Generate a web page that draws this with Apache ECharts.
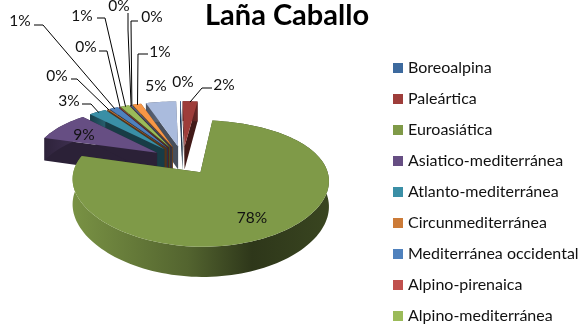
<!DOCTYPE html>
<html><head><meta charset="utf-8">
<style>html,body{margin:0;padding:0;background:#fff}#c{width:586px;height:327px}</style>
<script src="https://cdn.jsdelivr.net/npm/echarts@6/dist/echarts.min.js"></script>
</head><body><div id="c"></div>
<script>
const categories = ['Boreoalpina','Paleártica','Euroasiática','Asiatico-mediterránea','Atlanto-mediterránea','Circunmediterránea','Mediterránea occidental','Alpino-pirenaica','Alpino-mediterránea','Otra 10','Otra 11','Otra 12','Otra 13'];
const values = [0.1,2.2,77.5,8.6,2.6,0.2,1.3,0.1,1.3,0.1,0.1,1.3,4.5];
const colors = ['#3D6A9E','#9E3D3A','#7F9A48','#664E83','#3A8FA6','#CC7B38','#4F81BD','#C0504D','#9BBB59','#8064A2','#4BACC6','#F79646','#AABBDD'];
const legendCount = 9;

// Layout (pixels) of the percent labels: text centre, then leader start and elbow
const labelLayout = [
  {t:[183,82]},
  {t:[224,85],l:[[212,88],[202,88]]},
  {t:[252,218]},
  {t:[84,135]},
  {t:[69,101],l:[[82,104],[91,104]]},
  {t:[57,76],l:[[71,79],[77,79]]},
  {t:[20,21],l:[[34,25],[43,25]]},
  {t:[86,47],l:[[99,51],[107,51]]},
  {t:[82,16],l:[[97,18],[105,18]]},
  {t:[119,6],l:[[128,13],[128,30]]},
  {t:[152,17],l:[[138,21],[131,21]]},
  {t:[160,52],l:[[148,54],[138,54]]},
  {t:[156,86]}
];
const FONT = 'Lato, "Open Sans", sans-serif';
const G = {cx:183, cy:160, rx:124, ry:57, px:0.12, py:0.17, depth:24, explode:0.25, start:-1.3};

const total = values.reduce((a,b)=>a+b,0);
const slices = []; let acc = G.start;
values.forEach((v,i)=>{const a=v/total*360; slices.push({i,a0:acc,a1:acc+a,mid:acc+a/2}); acc+=a;});

function rad(d){return d*Math.PI/180;}
function project(X,Y,z){const sx=1/(1+G.px*Y), s=1/(1+G.py*Y);return [G.cx+G.rx*X*sx, G.cy-G.ry*Y*s+z*G.depth*s];}
function shade(hex,f){const n=parseInt(hex.slice(1),16);const c=[n>>16&255,n>>8&255,n&255].map(x=>Math.round(x*f));return 'rgb('+c.join(',')+')';}

function sliceShapes(k){
  const sl=slices[k], col=colors[k];
  const ox=Math.sin(rad(sl.mid))*G.explode, oy=Math.cos(rad(sl.mid))*G.explode;
  const n=Math.max(1,Math.ceil((sl.a1-sl.a0)/2));
  const arc=[];
  for(let j=0;j<=n;j++){const a=rad(sl.a0+(sl.a1-sl.a0)*j/n);arc.push([ox+Math.sin(a),oy+Math.cos(a)]);}
  const top=[project(ox,oy,0),...arc.map(p=>project(p[0],p[1],0))];
  const rimTop=arc.map(p=>project(p[0],p[1],0)), rimBot=arc.map(p=>project(p[0],p[1],1));
  const A=project(ox,oy,0),B=project(ox,oy,1);
  const e1=[A,B,rimBot[0],rimTop[0]], e2=[A,B,rimBot[n],rimTop[n]];
  const xs=rimTop.map(p=>p[0]);const xa=Math.min(...xs),xb=Math.max(...xs);
  const rimFill={type:'linear',x:xa,y:0,x2:Math.max(xb,xa+1),y2:0,global:true,colorStops:
    k===2?[{offset:0,color:shade(col,0.95)},{offset:0.45,color:shade(col,0.65)},{offset:0.7,color:shade(col,0.36)},{offset:1,color:shade(col,0.45)}]
         :[{offset:0,color:shade(col,0.45)},{offset:1,color:shade(col,0.65)}]};
  const poly=(pts,fill)=>({type:'polygon',shape:{points:pts},style:{fill:fill},silent:true});
  return [poly(e1,shade(col,0.42)),poly(e2,shade(col,0.42)),
          poly(rimTop.concat(rimBot.slice().reverse()),rimFill),poly(top,col)];
}
function labelShapes(k){
  const sl=slices[k], L=labelLayout[k], out=[];
  const ox=Math.sin(rad(sl.mid))*G.explode, oy=Math.cos(rad(sl.mid))*G.explode;
  if(L.l){
    const end=project(ox+Math.sin(rad(sl.mid))*0.98,oy+Math.cos(rad(sl.mid))*0.98,0);
    out.push({type:'polyline',shape:{points:[...L.l,end]},style:{stroke:'#000',lineWidth:1,fill:null},silent:true,z2:50});
  }
  out.push({type:'text',x:L.t[0],y:L.t[1],silent:true,z2:60,style:{text:Math.round(values[k])+'%',fill:'#111',font:'15.5px '+FONT,align:'center',verticalAlign:'middle'}});
  return out;
}
// Back slices first so nearer ones overlap them
const order = slices.map(s=>s.i).sort((a,b)=>Math.cos(rad(slices[b].mid))-Math.cos(rad(slices[a].mid)));

const series = order.map(k=>({
  type:'custom',name:categories[k],coordinateSystem:'none',silent:true,z:2,
  itemStyle:{color:colors[k]},data:[values[k]],
  renderItem:()=>({type:'group',children:sliceShapes(k)}),animation:false
})).concat(values.map((v,k)=>({
  type:'custom',name:'lbl'+k,coordinateSystem:'none',silent:true,z:5,data:[v],
  renderItem:()=>({type:'group',children:labelShapes(k)}),animation:false
})));

const chart=echarts.init(document.getElementById('c'),null,{renderer:'canvas'});
chart.setOption({
  animation:false,backgroundColor:'#fff',
  title:{text:'Laña Caballo',left:200,top:-4,textStyle:{fontFamily:FONT,fontSize:29,fontWeight:'bold',color:'#000'}},
  legend:{orient:'vertical',left:393,top:60,padding:0,itemWidth:10,itemHeight:10,itemGap:15,icon:'rect',
    data:categories.slice(0,legendCount),selectedMode:false,
    textStyle:{fontFamily:FONT,fontSize:16,color:'#111'}},
  series
});
</script></body></html>
